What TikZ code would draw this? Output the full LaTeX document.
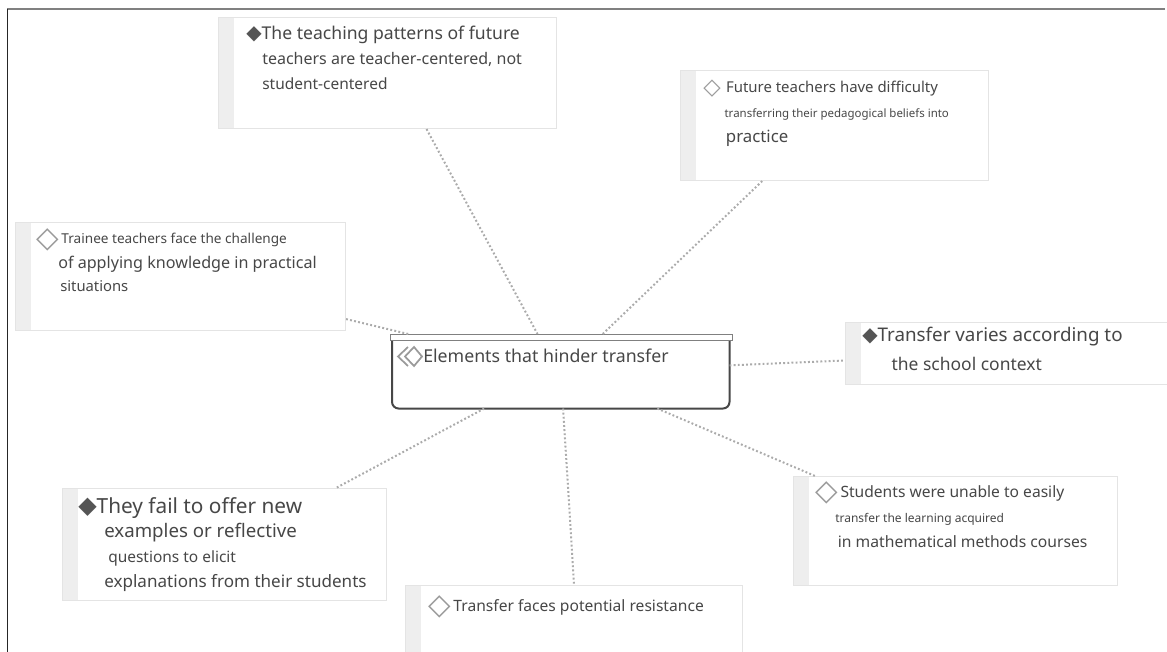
\documentclass[tikz,border=0pt]{standalone}
\usepackage{fontspec}
\setmainfont{Noto Sans}
\newfontfamily\symfont{DejaVu Sans}
\usepackage{tikz}
\usetikzlibrary{positioning, calc}

\definecolor{ink}{HTML}{474747}
\definecolor{cardline}{HTML}{E4E4E4}
\definecolor{stripgray}{HTML}{EEEEEE}
\definecolor{dotgray}{HTML}{ABABAB}
\definecolor{diafill}{HTML}{555555}
\definecolor{dialine}{HTML}{9A9A9A}

\newcommand{\fs}[1]{\fontsize{#1}{18.5}\selectfont}
\newcommand{\fdia}[1]{\smash{\color{diafill}\symfont\fontsize{#1}{18.5}\selectfont ◆}}
\newcommand{\odia}[2]{\smash{\raisebox{#2}{\color{dialine}\symfont\fontsize{#1}{18.5}\selectfont ◇}}}

\tikzset{
    card/.style={rectangle, draw=cardline, line width=0.8pt, fill=white,
        anchor=north west, inner sep=0pt,
        path picture={\fill[stripgray] (path picture bounding box.north west)
            rectangle ([xshift=11.5pt]path picture bounding box.south west);}},
    txt/.style={anchor=north west, inner sep=0pt, align=left, text=ink, font=\fs{10}},
    link/.style={draw=dotgray, line width=1.5pt, dash pattern=on 1.4pt off 1.7pt}
}

\begin{document}
\begin{tikzpicture}[x=0.75pt, y=-0.75pt]
    \useasboundingbox (0,0) rectangle (1167,652);

    % frame
    \draw[gray, line width=1.5pt] (7,9.5) -- (1165,9.5);
    \draw[black!85, line width=1.2pt] (7.5,9) -- (7.5,652);

    % cards
    \foreach \name/\x/\y/\w/\h in {
        top/218/17/338/111,
        futr/680/70/308/110,
        trainee/15/222/330/108,
        school/845/322/322/62,
        fail/62/488/324/112,
        stud/793/476/324/109,
        resist/405/585/337/70}{
        \node[card, minimum width=\w*0.75pt, minimum height=\h*0.75pt]
            (\name) at (\x,\y) {};
    }

    % central element
    \node[rectangle, anchor=north west, inner sep=0pt,
        minimum width=337*0.75pt, minimum height=68*0.75pt] (hinder) at (392,340) {};
    \draw[ink, line width=1.5pt, rounded corners=5pt]
        (hinder.north west) -- (hinder.south west) -- (hinder.south east) -- (hinder.north east);
    \node[rectangle, draw=gray, fill=white, line width=0.8pt, anchor=north west, inner sep=0pt,
        minimum width=342*0.75pt, minimum height=6*0.75pt] (hbar) at (390,334) {};
    \begin{scope}[shift={(hinder.north west)}, dialine, line width=1.3pt]
        \draw (16,7) -- (6,16.5) -- (16,26);
        \draw (22,7) -- (30,16.5) -- (22,26) -- (13,16.5) -- cycle;
    \end{scope}
    \node[txt] (hinderT) at (423,349) {\fs{13.3}Elements that hinder transfer};

    % texts
    \node[txt] (topT) at (246,26) {\fdia{15}\fs{13.2}The teaching patterns of future\\
        \hspace*{12pt}\fs{12}teachers are teacher-centered, not\\
        \hspace*{12pt}\fs{11.6}student-centered};
    \node[txt] (futrT) at (703,81) {\odia{17}{-1.5pt}\hspace{4pt}\fs{11.2}Future teachers have difficulty\\
        \hspace*{16pt}\fs{8.6}transferring their pedagogical beliefs into\\
        \hspace*{17pt}\fs{12.6}practice};
    \node[txt] (traineeT) at (36,233) {\odia{22}{-2.5pt}\hspace{2pt}\fs{10.2}Trainee teachers face the challenge\\
        \hspace*{16.5pt}\fs{12.1}of applying knowledge in practical\\[-1pt]
        \hspace*{18pt}\fs{11.1}situations};
    \node[txt] (schoolT) at (862,327) {\fdia{15}\fs{14.1}Transfer varies according to\\[3pt]
        \hspace*{22pt}\fs{13.1}the school context};
    \node[txt] (failT) at (78,497) {\fdia{18}\fs{15.6}They fail to offer new\\
        \hspace*{19.5pt}\fs{14}examples or reflective\\
        \hspace*{22.5pt}\fs{11.6}questions to elicit\\
        \hspace*{19.5pt}\fs{12.8}explanations from their students};
    \node[txt] (studT) at (815,485) {\odia{22}{-2.5pt}\hspace{2pt}\fs{11.7}Students were unable to easily\\[0.5pt]
        \hspace*{15pt}\fs{9}transfer the learning acquired\\[0.5pt]
        \hspace*{17pt}\fs{11.75}in mathematical methods courses};
    \node[txt] (resistT) at (428,599) {\odia{22}{-2.5pt}\hspace{2pt}\fs{11.7}Transfer faces potential resistance};

    % connectors
    \draw[link] ($(top.south west)!0.615!(top.south east)$) -- ($(hbar.north west)!0.43!(hbar.north east)$);
    \draw[link] ($(futr.south west)!0.266!(futr.south east)$) -- ($(hbar.north west)!0.62!(hbar.north east)$);
    \draw[link] ($(trainee.north east)!0.89!(trainee.south east)$) -- ($(hbar.north west)!0.053!(hbar.north east)$);
    \draw[link] ($(hinder.north east)!0.37!(hinder.south east)$) -- ($(school.north west)!0.61!(school.south west)$);
    \draw[link] ($(hinder.south west)!0.273!(hinder.south east)$) -- ($(fail.north west)!0.843!(fail.north east)$);
    \draw[link] ($(hinder.south west)!0.507!(hinder.south east)$) -- ($(resist.north west)!0.5!(resist.north east)$);
    \draw[link] ($(hinder.south west)!0.786!(hinder.south east)$) -- ($(stud.north west)!0.068!(stud.north east)$);
\end{tikzpicture}
\end{document}
